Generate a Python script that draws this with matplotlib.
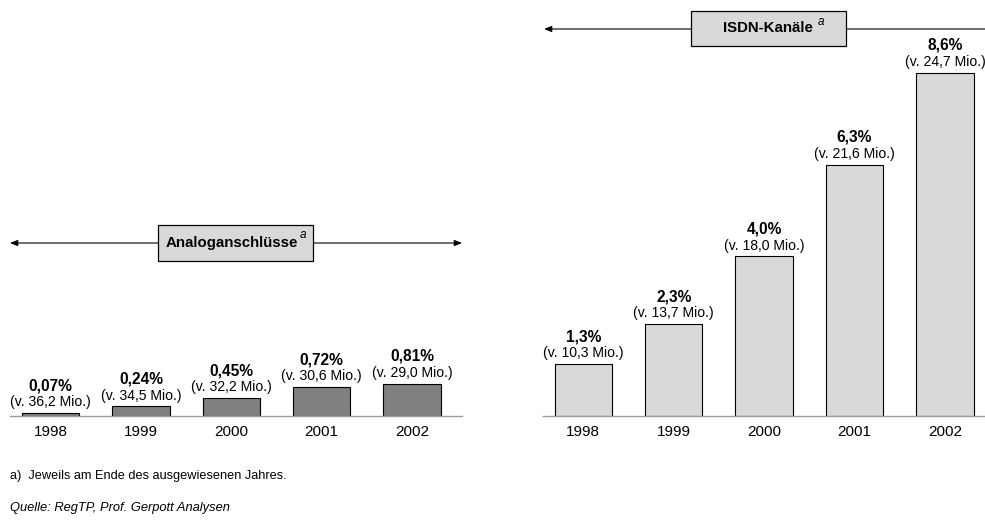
import matplotlib
matplotlib.use("Agg")
import matplotlib.pyplot as plt
from matplotlib.patches import Rectangle, FancyArrowPatch

plt.rcParams["font.family"] = ["Liberation Sans", "DejaVu Sans"]

years = ["1998", "1999", "2000", "2001", "2002"]
analog_pct = [0.07, 0.24, 0.45, 0.72, 0.81]
analog_base = [36.2, 34.5, 32.2, 30.6, 29.0]
isdn_pct = [1.3, 2.3, 4.0, 6.3, 8.6]
isdn_base = [10.3, 13.7, 18.0, 21.6, 24.7]

W, H = 985, 521
px_per_pct = 39.9  # same vertical scale for both panels
base_y = 416       # baseline, pixels from top


def de(v, nd):
    """German decimal comma"""
    return f"{v:.{nd}f}".replace(".", ",")


def fx(px):
    return px / W


def fy(py):
    return 1 - py / H


fig = plt.figure(figsize=(W / 100, H / 100), dpi=100)


def panel(left, right, x0, pct, base, nd, color):
    ax = fig.add_axes([fx(left), (H - base_y) / H, (right - left) / W, base_y / H])
    step = 90.4
    ax.set_xlim((left - x0) / step, (right - x0) / step)
    ax.set_ylim(0, base_y / px_per_pct)
    xs = range(len(years))
    ax.bar(xs, pct, width=0.636, color=color, edgecolor="black", linewidth=0.8, zorder=2)
    for i, (p, b) in enumerate(zip(pct, base)):
        ax.annotate(f"(v. {de(b, 1)} Mio.)", xy=(i, p), xytext=(0, 7.8),
                    textcoords="offset points", ha="center", va="center", fontsize=10.1)
        ax.annotate(f"{de(p, nd)}%", xy=(i, p), xytext=(0, 19.8),
                    textcoords="offset points", ha="center", va="center",
                    fontsize=11.2, fontweight="bold")
    ax.set_xticks(list(xs))
    ax.set_xticklabels(years, fontsize=11)
    ax.tick_params(axis="x", length=0, pad=6.5)
    ax.set_yticks([])
    for s in ["top", "left", "right"]:
        ax.spines[s].set_visible(False)
    ax.spines["bottom"].set_color("#9a9a9a")
    ax.spines["bottom"].set_linewidth(1.0)
    ax.patch.set_visible(False)
    return ax


ax1 = panel(10, 462, 50.5, analog_pct, analog_base, 2, "#808080")
ax2 = panel(543, 985, 583.3, isdn_pct, isdn_base, 1, "#d9d9d9")


def arrow(x_a, x_b, y, style):
    a = FancyArrowPatch((fx(x_a), fy(y)), (fx(x_b), fy(y)), transform=fig.transFigure,
                        arrowstyle=style, mutation_scale=1, color="black",
                        linewidth=0.8, shrinkA=0, shrinkB=0)
    fig.add_artist(a)


def label_box(x0, x1, y0, y1, text, tx, sx, sy):
    r = Rectangle((fx(x0), fy(y1)), (x1 - x0) / W, (y1 - y0) / H, transform=fig.transFigure,
                  facecolor="#d9d9d9", edgecolor="black", linewidth=0.9, zorder=5)
    fig.add_artist(r)
    yc = (y0 + y1) / 2
    fig.text(fx(tx), fy(yc), text, ha="left", va="center", fontsize=10.8,
             fontweight="bold", zorder=6)
    fig.text(fx(sx), fy(sy), "a", ha="left", va="center", fontsize=8.5,
             fontstyle="italic", zorder=6)


arrow(10, 462, 243, "<|-|>,head_length=4.5,head_width=1.8")
label_box(158, 313, 225, 261, "Analoganschlüsse", 166, 300, 235)

arrow(985, 544, 29, "-|>,head_length=4.5,head_width=1.8")
label_box(691, 846, 11, 46, "ISDN-Kanäle", 723, 818, 22)

fig.text(fx(10), fy(476), "a)  Jeweils am Ende des ausgewiesenen Jahres.",
         ha="left", va="center", fontsize=9.2)
fig.text(fx(10), fy(508), "Quelle: RegTP, Prof. Gerpott Analysen",
         ha="left", va="center", fontsize=9.3, fontstyle="italic")

fig.savefig("out.png", dpi=100)
